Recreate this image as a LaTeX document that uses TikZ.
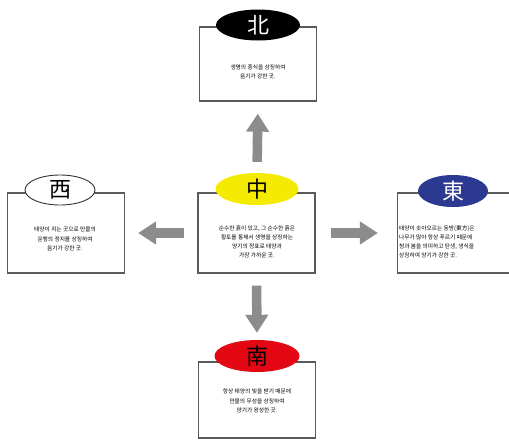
\documentclass[tikz,border=0pt]{standalone}
\usepackage{fontspec}
\setmainfont{Noto Sans CJK KR}
\newfontfamily\kr{Noto Sans CJK KR}
\usetikzlibrary{shapes.geometric,arrows.meta}
\definecolor{cyel}{HTML}{F5EB00}
\definecolor{cblue}{HTML}{2B3990}
\definecolor{cred}{HTML}{E30613}
\definecolor{cbord}{HTML}{5A5A5A}
\definecolor{carrow}{HTML}{8C8C8C}
\tikzset{
  panel/.style={draw=cbord, line width=1.3pt, fill=white, minimum width=117pt, minimum height=80pt, inner sep=0pt},
  badge/.style={ellipse, minimum width=84pt, minimum height=31pt, inner sep=0pt, font=\kr\fontsize{22}{22}\selectfont},
  body/.style={font=\kr\fontsize{5.7}{9.2}\selectfont, align=center, inner sep=0pt, text=black},
  bigarrow/.style={draw=carrow, line width=9.5pt, -{Triangle[width=22pt,length=18pt]}}
}
\begin{document}
\begin{tikzpicture}[x=1pt,y=-1pt]
\useasboundingbox (0,0) rectangle (509,440);
\clip (0,0) rectangle (509,440);
\fill[white] (0,0) rectangle (509,440);
% boxes
\node[panel, minimum height=74pt] (nbox) at (258,64) {};
\node[panel] (wbox) at (66,233) {};
\node[panel] (cbox) at (256.5,233) {};
\node[panel] (ebox) at (456,233) {};
\node[panel, minimum height=76pt] (sbox) at (257,400) {};
% badges
\node[badge, fill=black, text=white] (nell) at (258,25) {北};
\node[badge, fill=white, draw=black!80, line width=0.9pt, minimum width=70pt, minimum height=30pt] (well) at (60,190) {西};
\node[badge, fill=cyel, text=black, minimum width=83pt, minimum height=32pt] (cell) at (257,189) {中};
\node[badge, fill=cblue, text=white, minimum width=70pt, minimum height=32pt] (eell) at (453,191) {東};
\node[badge, fill=cred, text=black, minimum width=85pt, minimum height=32pt] (sell) at (257,356) {南};
% texts
\node[body] (ntext) at (258,72) {생명의 종식을 상징하여\\음기가 강한 곳.};
\node[body] (wtext) at (65,239) {태양이 지는 곳으로 만물의\\운행의 정지를 상징하여\\음기가 강한 곳.};
\node[body] (ctext) at (257,242) {순수한 흙이 있고, 그 순수한 흙은\\황토를 통해서 생명을 상징하는\\양기의 정표로 태양과\\가장 가까운 곳.};
\node[body, align=left, anchor=west] (etext) at (399,242) {태양이 솟아오르는 동방(東方)은\\나무가 많아 항상 푸르기 때문에\\청과 봄을 의미하고 탄생, 생식을\\상징하여 양기가 강한 곳.};
\node[body] (stext) at (257,401) {항상 태양의 빛을 받기 때문에\\만물의 무성을 상징하여\\양기가 왕성한 곳.};
% arrows
\draw[bigarrow, shorten <=11pt, shorten >=12pt] (cell.north) -- (nbox.south);
\draw[bigarrow, shorten <=13pt, shorten >=13pt] (cbox.west) -- (wbox.east);
\draw[bigarrow, shorten <=15pt, shorten >=19pt] (cbox.east) -- (ebox.west);
\draw[bigarrow, shorten <=12pt, shorten >=7pt] (cbox.south) -- (sell.north);
\end{tikzpicture}
\end{document}
